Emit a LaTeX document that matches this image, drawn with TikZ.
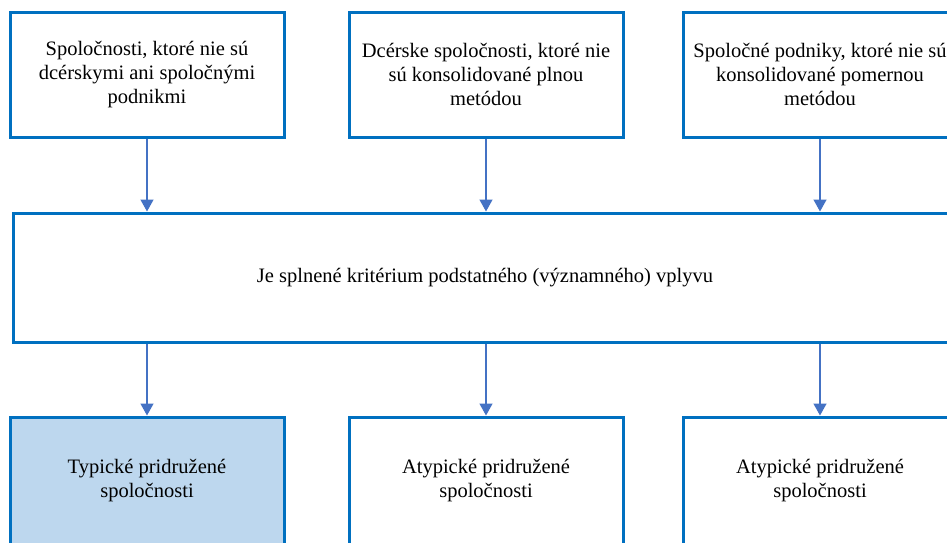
\documentclass[tikz,border=0pt]{standalone}
\usepackage{fontspec}
\setmainfont{Liberation Serif}
\usepackage{tikz}
\usetikzlibrary{arrows.meta}
\definecolor{boxblue}{HTML}{0070C0}
\definecolor{arrowblue}{HTML}{4472C4}
\definecolor{lightfill}{HTML}{BDD7EE}
\tikzstyle{box}=[draw=boxblue,line width=3pt,fill=white,align=center,inner sep=0pt,minimum width=274pt,minimum height=125pt]
\tikzstyle{arr}=[draw=arrowblue,line width=1.4pt,-{Triangle[width=13pt,length=12pt]}]

\begin{document}
\begin{tikzpicture}[x=1pt,y=-1pt,font=\fontsize{20.5}{24}\selectfont]
  \clip (0,0) rectangle (947,542);
  \fill[white] (0,0) rectangle (947,542);
  % top row
  \node[box] (company) at (147,74.5) {Spoločnosti, ktoré nie sú\\ dcérskymi ani spoločnými\\ podnikmi};
  \node[box] (subsid) at (486,74.5) {Dcérske spoločnosti, ktoré nie\\ sú konsolidované plnou\\ metódou};
  \node[box] (joint) at (820,74.5) {Spoločné podniky, ktoré nie sú\\ konsolidované pomernou\\ metódou};
  % criterion
  \node[box,minimum width=944pt,minimum height=129pt] (crit) at (485,277.5) {Je splnené kritérium podstatného (významného) vplyvu};
  % bottom row
  \node[box,fill=lightfill,minimum height=128pt] (typical) at (147,481) {Typické pridružené\\ spoločnosti};
  \node[box,minimum height=128pt] (atyp1) at (486,481) {Atypické pridružené\\ spoločnosti};
  \node[box,minimum height=128pt] (atyp2) at (820,481) {Atypické pridružené\\ spoločnosti};
  % arrows
  \draw[arr] (company.south) -- (company.south |- crit.north);
  \draw[arr] (subsid.south) -- (subsid.south |- crit.north);
  \draw[arr] (joint.south) -- (joint.south |- crit.north);
  \draw[arr] (typical.north |- crit.south) -- (typical.north);
  \draw[arr] (atyp1.north |- crit.south) -- (atyp1.north);
  \draw[arr] (atyp2.north |- crit.south) -- (atyp2.north);
\end{tikzpicture}
\end{document}
